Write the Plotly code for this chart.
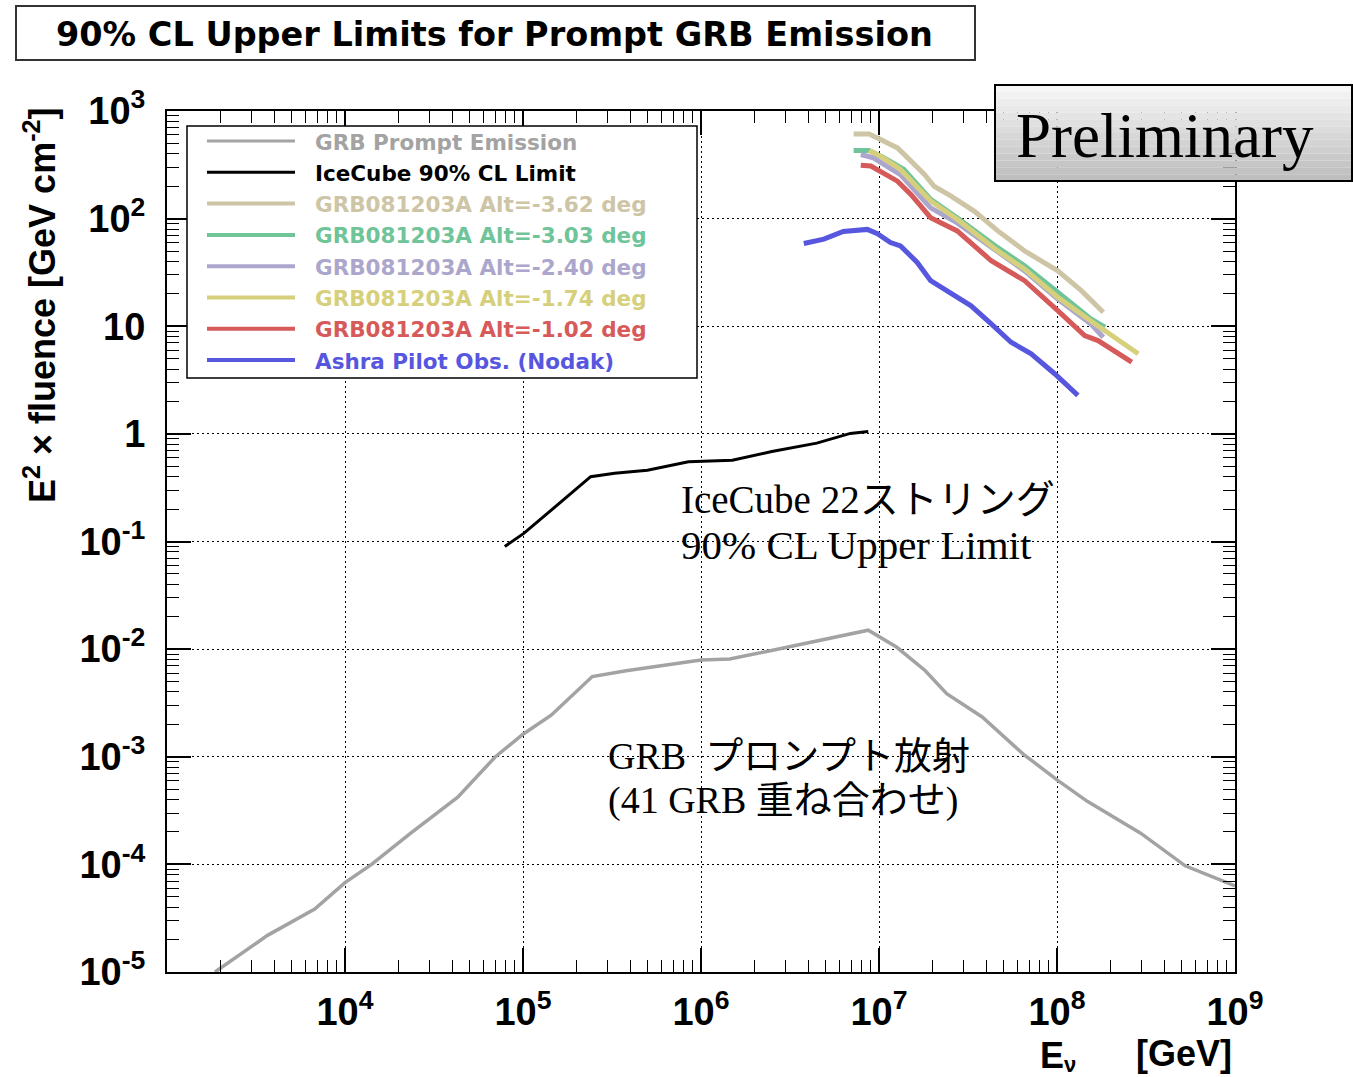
import plotly.graph_objects as go

# ---------------- data ----------------
grb_E = [1.86e3, 3.67e3, 6.76e3, 1.0e4, 1.41e4, 2.34e4, 4.3e4, 7.0e4, 1.0e5, 1.44e5,
         2.45e5, 3.8e5, 1.0e6, 1.45e6, 2.45e6, 4.47e6, 8.7e6, 1.26e7, 1.82e7, 2.4e7,
         3.8e7, 6.46e7, 1.0e8, 1.48e8, 2.95e8, 5.25e8, 1.0e9]
grb_F = [1.0e-5, 2.19e-5, 3.85e-5, 6.76e-5, 1.0e-4, 1.95e-4, 4.22e-4, 1.0e-3, 1.62e-3, 2.43e-3,
         5.56e-3, 6.3e-3, 7.94e-3, 8.1e-3, 9.66e-3, 1.2e-2, 1.5e-2, 1.04e-2, 6.3e-3, 3.85e-3,
         2.34e-3, 1.06e-3, 6.1e-4, 3.85e-4, 1.95e-4, 9.7e-5, 6.3e-5]

icecube_E = [7.9e4, 1.01e5, 1.31e5, 1.78e5, 2.4e5, 3.27e5, 5.0e5, 8.5e5, 1.5e6, 2.5e6, 4.47e6, 6.9e6, 8.7e6]
icecube_F = [0.09, 0.119, 0.171, 0.263, 0.40, 0.43, 0.46, 0.55, 0.57, 0.685, 0.82, 1.01, 1.05]

alt362_E = [7.2e6, 8.8e6, 1.02e7, 1.27e7, 1.45e7, 1.8e7, 2.04e7, 2.54e7, 3.44e7, 4.65e7, 6.58e7, 1.01e8, 1.37e8, 1.82e8]
alt362_F = [612, 612, 543, 454, 367, 257, 200, 162, 117, 76.9, 50.1, 32.7, 21.4, 13.5]

alt303_E = [7.2e6, 8.8e6, 1.07e7, 1.38e7, 1.95e7, 2.75e7, 4.65e7, 6.58e7, 1.01e8, 1.55e8, 1.86e8]
alt303_F = [430, 430, 367, 286, 151, 102, 53.7, 36.5, 20.7, 11.7, 9.8]

alt240_E = [7.9e6, 9.3e6, 1.32e7, 1.95e7, 2.75e7, 4.65e7, 6.58e7, 1.01e8, 1.55e8, 1.82e8]
alt240_F = [394, 367, 257, 126, 91.2, 48.4, 32.7, 17.9, 10.5, 7.9]

alt174_E = [8.8e6, 1.02e7, 1.32e7, 1.95e7, 2.75e7, 4.65e7, 6.58e7, 1.01e8, 1.55e8, 2.86e8]
alt174_F = [430, 380, 286, 146, 98.6, 50.1, 33.9, 18.6, 11.2, 5.55]

alt102_E = [7.9e6, 9.0e6, 1.27e7, 1.51e7, 1.95e7, 2.75e7, 4.27e7, 6.58e7, 1.01e8, 1.43e8, 1.7e8, 2.63e8]
alt102_F = [314, 308, 223, 168, 102, 76.9, 40.6, 26.5, 14.0, 8.2, 7.36, 4.65]

ashra_E = [3.78e6, 4.9e6, 6.3e6, 8.6e6, 9.8e6, 1.16e7, 1.32e7, 1.64e7, 1.95e7, 2.43e7,
           3.29e7, 4.27e7, 5.52e7, 7.16e7, 9.7e7, 1.31e8]
ashra_F = [58.7, 64.4, 75.9, 79.4, 72.6, 60.0, 55.8, 39.2, 26.5, 21.4,
           15.5, 10.5, 7.1, 5.55, 3.62, 2.28]

series_names = ["GRB Prompt Emission", "IceCube 90% CL Limit",
                "GRB081203A Alt=-3.62 deg", "GRB081203A Alt=-3.03 deg",
                "GRB081203A Alt=-2.40 deg", "GRB081203A Alt=-1.74 deg",
                "GRB081203A Alt=-1.02 deg", "Ashra Pilot Obs. (Nodak)"]
series_colors = ["#a3a3a3", "#000000", "#cdc5a5", "#6fc49a", "#aca6cc",
                 "#d6d07c", "#d75a5a", "#5656df"]
series_widths = [3.5, 3, 5, 5, 5, 5, 5, 5]

x_tick_vals = [1e4, 1e5, 1e6, 1e7, 1e8, 1e9]
x_tick_text = ["10<sup>4</sup>", "10<sup>5</sup>", "10<sup>6</sup>", "10<sup>7</sup>",
               "10<sup>8</sup>", "10<sup>9</sup>"]
y_tick_vals = [1e-5, 1e-4, 1e-3, 1e-2, 1e-1, 1, 10, 100, 1000]
y_tick_text = ["10<sup>-5</sup>", "10<sup>-4</sup>", "10<sup>-3</sup>", "10<sup>-2</sup>",
               "10<sup>-1</sup>", "1", "10", "10<sup>2</sup>", "10<sup>3</sup>"]

title_text = "90% CL Upper Limits for Prompt GRB Emission"
prelim_text = "Preliminary"
icecube_note = ["IceCube 22ストリング", "90% CL Upper Limit"]
grb_note = ["GRB  プロンプト放射", "(41 GRB 重ね合わせ)"]
x_title = ["E", "ν", "[GeV]"]
y_title = "E<sup>2</sup> × fluence [GeV cm<sup>-2</sup>]"

# ---------------- figure ----------------
W, H = 1353, 1077
L, R, T, B = 167, 1235, 111, 972


def px(x):
    return (x - L) / (R - L)


def py(y):
    return (B - y) / (B - T)


all_series = [(grb_E, grb_F), (icecube_E, icecube_F), (alt362_E, alt362_F),
              (alt303_E, alt303_F), (alt240_E, alt240_F), (alt174_E, alt174_F),
              (alt102_E, alt102_F), (ashra_E, ashra_F)]

fig = go.Figure()
for (xe, yf), name, col, w in zip(all_series, series_names, series_colors, series_widths):
    fig.add_trace(go.Scatter(x=xe, y=yf, mode="lines", name=name,
                             line=dict(color=col, width=w), showlegend=False))

minor_x = [m * 10 ** k for k in range(3, 9) for m in range(2, 10)]
minor_y = [m * 10.0 ** k for k in range(-5, 3) for m in range(2, 10)]

axis_font = dict(family="Liberation Sans, Arial", size=38, color="black", weight="bold")

fig.update_xaxes(type="log", range=[3, 9], showline=True, linecolor="black", linewidth=2,
                 mirror="ticks", ticks="inside", ticklen=24, tickwidth=1.5, tickcolor="black",
                 tickmode="array", tickvals=x_tick_vals, ticktext=x_tick_text,
                 tickfont=axis_font, ticklabelstandoff=5,
                 showgrid=True, gridcolor="black", gridwidth=1, griddash="2px,3px",
                 zeroline=False,
                 minor=dict(tickmode="array", tickvals=minor_x, ticks="inside", ticklen=12,
                            tickwidth=1.2, tickcolor="black", showgrid=False))
fig.update_yaxes(type="log", range=[-5, 3], showline=True, linecolor="black", linewidth=2,
                 mirror="ticks", ticks="inside", ticklen=24, tickwidth=1.5, tickcolor="black",
                 tickmode="array", tickvals=y_tick_vals, ticktext=y_tick_text,
                 tickfont=axis_font, ticklabelstandoff=12,
                 showgrid=True, gridcolor="black", gridwidth=1, griddash="2px,3px",
                 zeroline=False,
                 minor=dict(tickmode="array", tickvals=minor_y, ticks="inside", ticklen=12,
                            tickwidth=1.2, tickcolor="black", showgrid=False))

shapes = []
annotations = []

# title box
shapes.append(dict(type="rect", xref="paper", yref="paper", x0=px(16), x1=px(975),
                   y0=py(60), y1=py(6), line=dict(color="#333333", width=2),
                   fillcolor="white", layer="above"))
annotations.append(dict(xref="paper", yref="paper", x=px(494), y=py(34), text="<b>" + title_text + "</b>",
                        showarrow=False, xanchor="center", yanchor="middle",
                        font=dict(family="DejaVu Sans", size=33.5, color="black")))

# Preliminary box with vertical gradient
n_bands = 14
top_c, bot_c = (246, 246, 246), (190, 190, 190)
y_top, y_bot = 85, 181
for i in range(n_bands):
    t = i / (n_bands - 1)
    c = tuple(int(top_c[j] + (bot_c[j] - top_c[j]) * t) for j in range(3))
    ya = y_top + (y_bot - y_top) * i / n_bands
    yb = y_top + (y_bot - y_top) * (i + 1) / n_bands
    shapes.append(dict(type="rect", xref="paper", yref="paper", x0=px(995), x1=px(1353),
                       y0=py(yb), y1=py(ya), line=dict(width=0),
                       fillcolor="rgb(%d,%d,%d)" % c, layer="above"))
shapes.append(dict(type="rect", xref="paper", yref="paper", x0=px(995), x1=px(1352),
                   y0=py(181), y1=py(85), line=dict(color="black", width=2),
                   fillcolor="rgba(0,0,0,0)", layer="above"))
annotations.append(dict(xref="paper", yref="paper", x=px(1165), y=py(136), text=prelim_text,
                        showarrow=False, xanchor="center", yanchor="middle",
                        font=dict(family="Liberation Serif, Times New Roman, serif", size=63, color="black")))

# legend box (drawn manually to match the long line samples)
shapes.append(dict(type="rect", xref="paper", yref="paper", x0=px(187), x1=px(697),
                   y0=py(378), y1=py(126), line=dict(color="black", width=1.5),
                   fillcolor="white", layer="above"))
row_y0, row_dy = 141, 31.3
for i, (name, col) in enumerate(zip(series_names, series_colors)):
    yy = row_y0 + i * row_dy
    shapes.append(dict(type="line", xref="paper", yref="paper", x0=px(207), x1=px(295),
                       y0=py(yy), y1=py(yy), line=dict(color=col, width=4 if i > 1 else 3),
                       layer="above"))
    annotations.append(dict(xref="paper", yref="paper", x=px(313), y=py(yy + 1),
                            text="<b>" + name + "</b>", showarrow=False,
                            xanchor="left", yanchor="middle",
                            font=dict(family="DejaVu Sans", size=21.5, color=col)))

# in-plot notes
serif = "Liberation Serif, Noto Sans CJK JP, serif"
annotations.append(dict(xref="paper", yref="paper", x=px(679), y=py(500), text=icecube_note[0],
                        showarrow=False, xanchor="left", yanchor="middle",
                        font=dict(family=serif, size=39, color="black")))
annotations.append(dict(xref="paper", yref="paper", x=px(679), y=py(545), text=icecube_note[1],
                        showarrow=False, xanchor="left", yanchor="middle",
                        font=dict(family=serif, size=41, color="black")))
annotations.append(dict(xref="paper", yref="paper", x=px(606), y=py(756), text=grb_note[0],
                        showarrow=False, xanchor="left", yanchor="middle",
                        font=dict(family=serif, size=38, color="black")))
annotations.append(dict(xref="paper", yref="paper", x=px(606), y=py(800), text=grb_note[1],
                        showarrow=False, xanchor="left", yanchor="middle",
                        font=dict(family=serif, size=38, color="black")))

# axis titles
title_font = dict(family="Liberation Sans, Arial", size=36, color="black")
annotations.append(dict(xref="paper", yref="paper", x=px(1038), y=py(1055), text="<b>" + x_title[0] + "</b>",
                        showarrow=False, xanchor="left", yanchor="middle", font=title_font))
annotations.append(dict(xref="paper", yref="paper", x=px(1062), y=py(1064), text="<b>" + x_title[1] + "</b>",
                        showarrow=False, xanchor="left", yanchor="middle",
                        font=dict(family="Liberation Sans, Arial", size=22, color="black")))
annotations.append(dict(xref="paper", yref="paper", x=px(1234), y=py(1053), text="<b>" + x_title[2] + "</b>",
                        showarrow=False, xanchor="right", yanchor="middle", font=title_font))
annotations.append(dict(xref="paper", yref="paper", x=px(40), y=py(305), text="<b>" + y_title + "</b>",
                        showarrow=False, xanchor="center", yanchor="middle", textangle=-90,
                        font=dict(family="Liberation Sans, Arial", size=36, color="black")))

fig.update_layout(width=W, height=H, autosize=False,
                  margin=dict(l=L, r=W - R, t=T, b=H - B, pad=0),
                  paper_bgcolor="white", plot_bgcolor="white",
                  shapes=shapes, annotations=annotations, showlegend=False)

fig.write_html("out.html")
